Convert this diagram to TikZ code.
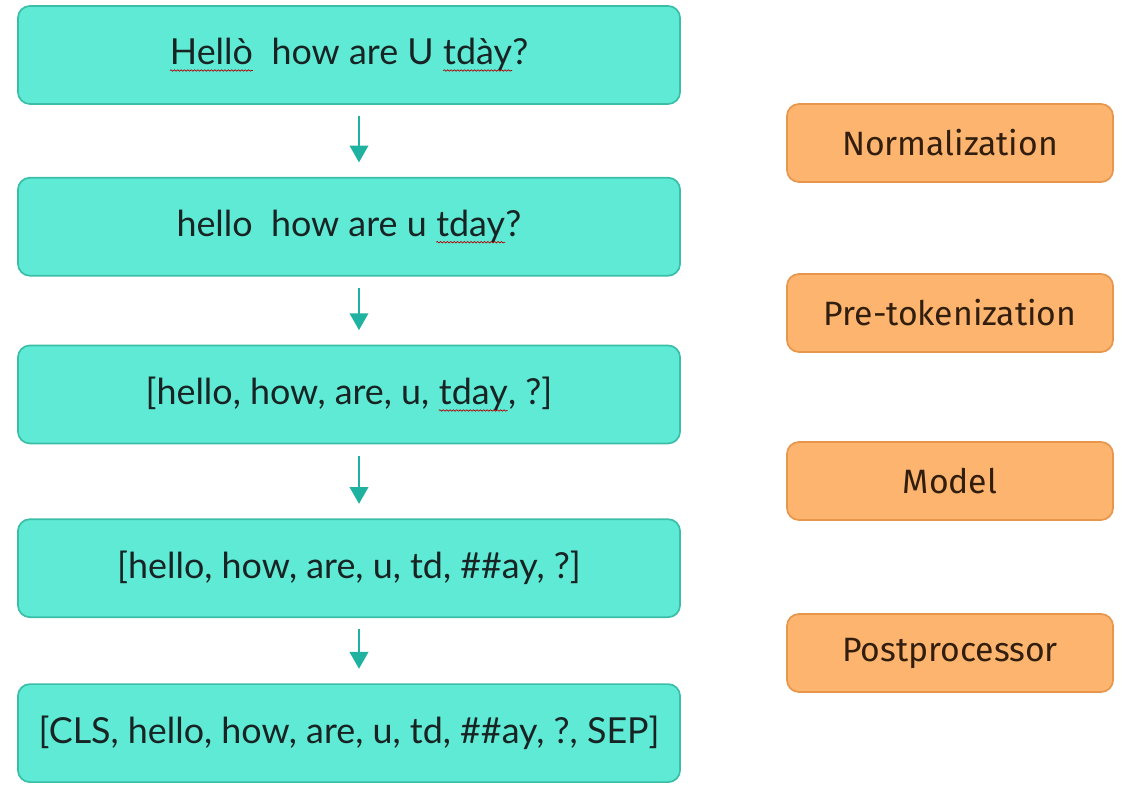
\documentclass[tikz,border=0pt]{standalone}
\usepackage{fontspec}
\setmainfont{Lato}[Ligatures=NoCommon]
\newfontfamily\labelfont{Fira Sans}
\usepackage{tikz}
\usetikzlibrary{arrows.meta,positioning,decorations.pathmorphing}
\definecolor{tealfill}{RGB}{94,234,212}
\definecolor{tealline}{RGB}{58,190,168}
\definecolor{tealarrow}{RGB}{32,178,160}
\definecolor{orangefill}{RGB}{253,180,110}
\definecolor{orangeline}{RGB}{232,150,76}
\definecolor{textdark}{RGB}{24,36,36}
\definecolor{textbrown}{RGB}{50,30,14}
\newcommand\spellmark[1]{\tikz[baseline=(w.base),sharp corners,x=1cm,y=1cm]{\node[inner sep=0pt,outer sep=0pt,draw=none,fill=none,
  minimum width=0pt,minimum height=0pt,anchor=center] (w) at (0,0) {#1};
  \draw[red!70!black,line width=0.5pt,sharp corners,decorate,decoration={snake,amplitude=0.5pt,segment length=2.4pt}]
  ([yshift=-4pt]w.base west) -- ([yshift=-4pt]w.base east);}}
\tikzset{
  stagebox/.style={draw=tealline, line width=1.2pt, fill=tealfill, rounded corners=0.3cm,
    minimum width=16.55cm, minimum height=2.45cm, text=textdark, font=\fontsize{25.5}{30}\selectfont},
  labelbox/.style={draw=orangeline, line width=1.2pt, fill=orangefill, rounded corners=0.3cm,
    minimum width=8.15cm, minimum height=1.95cm, text=textbrown, font=\labelfont\fontsize{24}{28}\selectfont},
  flowarrow/.style={draw=tealarrow, line width=2pt, -{Triangle[width=13pt,length=12pt]},
    shorten <=0.28cm, shorten >=0.36cm}
}
\begin{document}
\begin{tikzpicture}[x=0.025cm,y=-0.025cm]
\useasboundingbox (0,0) rectangle (1127,786);
\node[stagebox] (raw) at (349,55) {\spellmark{Hellò}\ \ how are U \spellmark{tdày}?};
\node[stagebox, below=1.8cm of raw] (norm) {hello\ \ how are u \spellmark{tday}?};
\node[stagebox, below=1.7cm of norm] (pretok) {[hello, how, are, u, \spellmark{tday}, ?]};
\node[stagebox, below=1.85cm of pretok] (model) {[hello, how, are, u, td, \#\#ay, ?]};
\node[stagebox, below=1.63cm of model] (post) {[CLS, hello, how, are, u, td, \#\#ay, ?, SEP]};
\draw[flowarrow] ([xshift=0.25cm]raw.south) -- ([xshift=0.25cm]norm.north);
\draw[flowarrow] ([xshift=0.25cm]norm.south) -- ([xshift=0.25cm]pretok.north);
\draw[flowarrow] ([xshift=0.25cm]pretok.south) -- ([xshift=0.25cm]model.north);
\draw[flowarrow] ([xshift=0.25cm]model.south) -- ([xshift=0.25cm]post.north);
\node[labelbox] (normlbl) at (950,143) {Normalization};
\node[labelbox] (pretoklbl) at (950,313) {Pre-tokenization};
\node[labelbox] (modellbl) at (950,481) {Model};
\node[labelbox] (postlbl) at (950,653) {Postprocessor};
\end{tikzpicture}
\end{document}
